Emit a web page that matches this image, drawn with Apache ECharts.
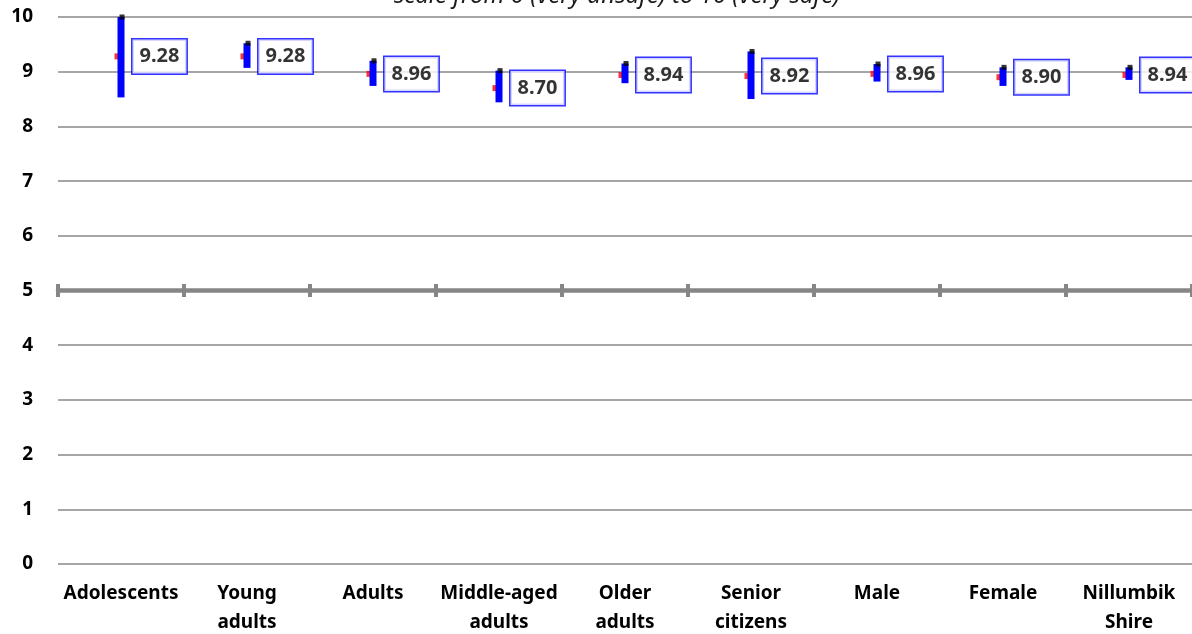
<!DOCTYPE html>
<html>
<head>
<meta charset="utf-8">
<script src="https://cdn.jsdelivr.net/npm/echarts@6/dist/echarts.min.js"></script>
<style>
html,body{margin:0;padding:0;background:#fff;}
#chart{width:1192px;height:634px;}
</style>
</head>
<body>
<div id="chart"></div>
<script>
const categories = ['Adolescents','Young\nadults','Adults','Middle-aged\nadults','Older\nadults','Senior\ncitizens','Male','Female','Nillumbik\nShire'];
const means = [9.28, 9.28, 8.96, 8.70, 8.94, 8.92, 8.96, 8.90, 8.94];
const highs = [10.00, 9.52, 9.20, 9.02, 9.15, 9.37, 9.14, 9.08, 9.08];
const lows  = [8.53, 9.07, 8.74, 8.44, 8.79, 8.50, 8.82, 8.74, 8.85];
const yTicks = [0,1,2,3,4,5,6,7,8,9,10];
const titleText = 'scale from 0 (very unsafe) to 10 (very safe)';

const FONT = 'Noto Sans';
const chart = echarts.init(document.getElementById('chart'), null, {renderer:'canvas'});
const gridTop = 17, gridBottom = 70, H = 634;
const plotH = H - gridTop - gridBottom;
const axisOffset = -(plotH / 2);

const rangeData = categories.map((c, i) => [i, lows[i], highs[i]]);

chart.setOption({
  animation: false,
  title: {
    text: titleText, left: 394, top: -16, padding: 0,
    textStyle: { fontFamily: FONT, fontStyle: 'italic', fontWeight: 'normal', fontSize: 24, color: '#1a1a1a' }
  },
  grid: { left: 58, right: 0, top: gridTop, bottom: gridBottom, containLabel: false, outerBoundsMode: 'none' },
  xAxis: [
    {
      type: 'category', data: categories, position: 'bottom',
      axisLine: { show: false }, axisTick: { show: false },
      axisLabel: { fontFamily: FONT, fontWeight: 'bold', fontSize: 19, color: '#000', lineHeight: 29, margin: 15, interval: 0 }
    },
    {
      type: 'category', data: categories, position: 'bottom', offset: axisOffset,
      axisLine: { show: true, lineStyle: { color: '#868686', width: 4.5 } },
      axisTick: { show: true, length: 6.5, lineStyle: { color: '#868686', width: 4 } },
      axisLabel: { show: false }
    },
    {
      type: 'category', data: categories, position: 'bottom', offset: axisOffset,
      axisLine: { show: false },
      axisTick: { show: true, inside: true, length: 6.5, lineStyle: { color: '#868686', width: 4 } },
      axisLabel: { show: false }
    }
  ],
  yAxis: {
    type: 'value', min: yTicks[0], max: yTicks[yTicks.length-1], interval: 1,
    axisLine: { show: false }, axisTick: { show: false },
    splitLine: { show: true, lineStyle: { color: '#a6a6a6', width: 2 } },
    axisLabel: { fontFamily: FONT, fontWeight: 'bold', fontSize: 19, color: '#000', margin: 25 }
  },
  series: [
    {
      name: 'mean marker', type: 'scatter', data: means, z: 2,
      symbol: 'rect', symbolSize: [7, 6], symbolOffset: [-3, 0],
      itemStyle: { color: '#ff0000' }, silent: true
    },
    {
      name: 'range', type: 'custom', data: rangeData, z: 3, silent: true,
      renderItem: function (params, api) {
        const top = api.coord([api.value(0), api.value(2)]);
        const bot = api.coord([api.value(0), api.value(1)]);
        return { type: 'rect', shape: { x: top[0] - 3.5, y: top[1], width: 7, height: bot[1] - top[1] }, style: { fill: '#0000ff' } };
      }
    },
    {
      name: 'high marker', type: 'scatter', data: highs, z: 4,
      symbol: 'rect', symbolSize: [5, 5], symbolOffset: [1, 0],
      itemStyle: { color: '#000' }, silent: true
    },
    {
      name: 'labels', type: 'scatter', data: means, z: 5, silent: true,
      symbolSize: 1, itemStyle: { color: 'rgba(0,0,0,0)' },
      label: {
        show: true, position: 'right', distance: 11,
        formatter: p => p.value.toFixed(2),
        fontFamily: FONT, fontWeight: 'bold', fontSize: 20, color: '#000', lineHeight: 22,
        backgroundColor: '#fff', borderColor: '#0000ff', borderWidth: 1.5,
        padding: [6, 7, 6, 7]
      }
    }
  ]
});
</script>
</body>
</html>
